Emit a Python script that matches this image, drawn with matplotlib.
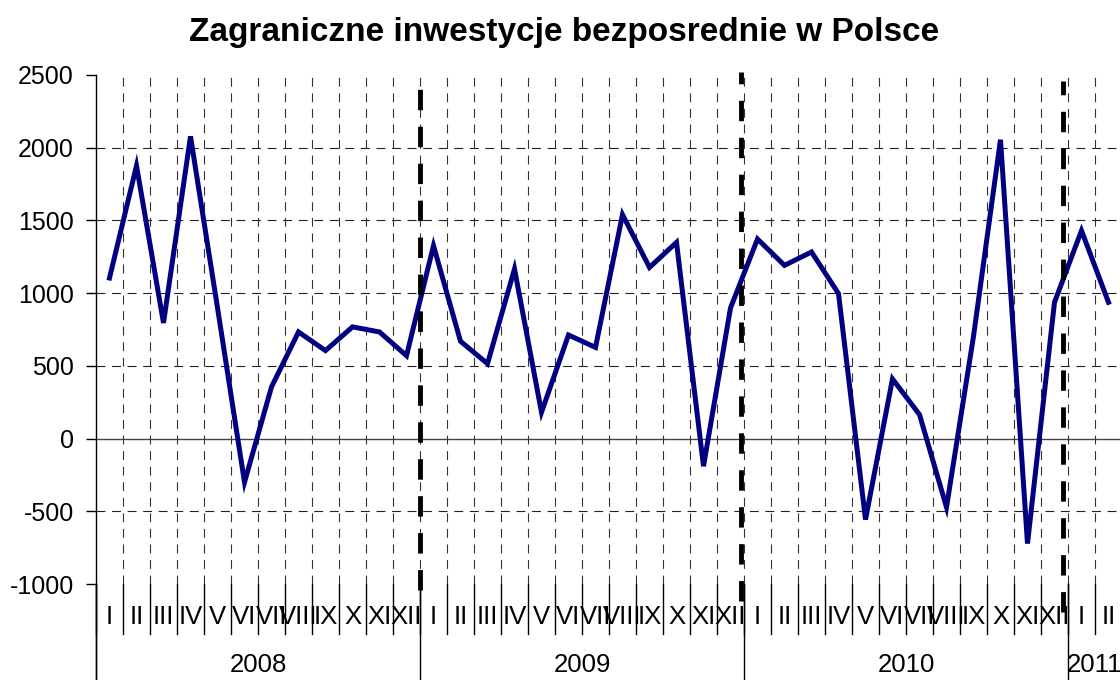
import numpy as np
import matplotlib
matplotlib.use("Agg")
import matplotlib.pyplot as plt
from matplotlib.transforms import blended_transform_factory

plt.rcParams['font.family'] = ['Liberation Sans', 'DejaVu Sans']

# monthly values, I 2008 .. II 2011
values = [1104, 1876, 795, 2078, 900, -300, 355, 733, 605, 768, 733, 570,
          1326, 669, 515, 1166, 181, 712, 627, 1540, 1177, 1349, -190, 898,
          1372, 1191, 1283, 997, -557, 410, 165, -472, 703, 2055, -722, 937,
          1430, 937]
months = ["I", "II", "III", "IV", "V", "VI", "VII", "VIII", "IX", "X", "XI", "XII"]
month_labels = months * 3 + months[:2]
years = ["2008", "2009", "2010", "2011"]
year_starts = [0, 12, 24, 36]
year_ends = [12, 24, 36, 38]
yticks = [-1000, -500, 0, 500, 1000, 1500, 2000, 2500]

# hand-drawn thick dashed year markers (position, bottom, top)
marker_x = [12.0, 23.9, 35.8]
marker_lo = [-1040, -1120, -1190]
marker_hi = [2450, 2520, 2460]

fig = plt.figure(figsize=(11.2, 6.8), dpi=100)
W, H = 1120, 680
ax = fig.add_axes([96 / W, 96 / H, 38 * 27 / W, 509 / H])

n = len(values)
x = np.arange(n) + 0.5

ax.set_xlim(0, n)
ax.set_ylim(yticks[0], yticks[-1])

# grid
for v in yticks[1:-1]:
    if v == 0:
        ax.axhline(v, color="#444444", lw=1.0, zorder=1)
    else:
        ax.axhline(v, color="#222222", lw=0.8, ls=(0, (8, 6)), zorder=1)
for b in range(1, n):
    ax.axvline(b, color="#333333", lw=0.8, ls=(0, (8, 6)), zorder=1)

ax.plot(x, values, color="#000080", lw=3.6, solid_joinstyle="miter", zorder=3)

ax.vlines(marker_x, marker_lo, marker_hi, colors="black", lw=3.5,
          linestyles=(0, (4.2, 3.4)), clip_on=False, zorder=4)

for s in ["top", "right", "bottom", "left"]:
    ax.spines[s].set_visible(False)

ax.set_yticks(yticks)
ax.set_yticklabels([str(v) for v in yticks])
ax.tick_params(axis="y", length=7, width=1, pad=9, labelsize=18, direction="out")
ax.set_xticks([])

# category axis drawn below the plot
tr = blended_transform_factory(ax.transData, ax.transAxes)
px = 1 / 509
ax.plot([0, 0], [1, -100 * px], color="black", lw=1, transform=tr, clip_on=False)
for b in range(n + 1):
    ax.plot([b, b], [0, -50 * px], color="black", lw=1, transform=tr, clip_on=False)
for b in year_starts + [year_ends[-1]]:
    ax.plot([b, b], [0, -100 * px], color="black", lw=1, transform=tr, clip_on=False)
for i, lab in enumerate(month_labels):
    ax.text(i + 0.5, -33 * px, lab, transform=tr, ha="center", va="center",
            fontsize=18.5)
for yr, a, b in zip(years, year_starts, year_ends):
    ax.text((a + b) / 2, -81 * px, yr, transform=tr, ha="center", va="center",
            fontsize=18.5)

fig.text(564 / W, 1 - 32 / H, "Zagraniczne inwestycje bezposrednie w Polsce",
         ha="center", va="center", fontsize=24, fontweight="bold")

fig.savefig("out.png", dpi=100)
